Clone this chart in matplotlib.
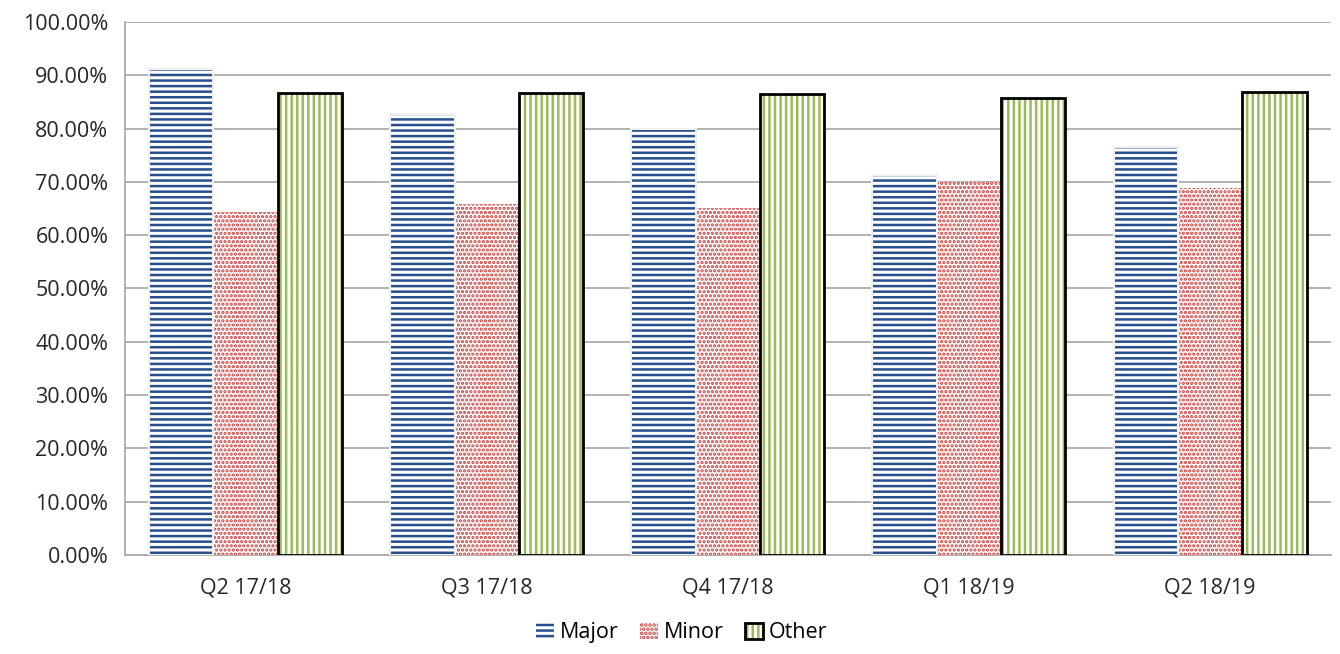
import numpy as np
import matplotlib
matplotlib.use("Agg")
import matplotlib.pyplot as plt
from matplotlib.patches import Patch
from matplotlib.legend_handler import HandlerTuple
from matplotlib.ticker import FuncFormatter

# data
categories = ['Q2 17/18', 'Q3 17/18', 'Q4 17/18', 'Q1 18/19', 'Q2 18/19']
major = [91.2, 82.8, 79.9, 71.2, 76.6]
minor = [64.4, 65.9, 65.1, 69.9, 68.8]
other = [86.7, 86.6, 86.4, 85.8, 86.8]
yticks = np.arange(0, 101, 10)

navy = '#264D8C'
red = '#C8403D'
green = '#9BBB59'
grid_col = '#A6A6A6'

plt.rcParams['font.family'] = ['Open Sans', 'DejaVu Sans']
plt.rcParams['hatch.linewidth'] = 1.8

fig = plt.figure(figsize=(13.4, 6.54), dpi=100)
ax = fig.add_axes([0.0933, 0.1514, 0.8997, 0.815])

x = np.arange(len(categories))
w = 0.8 / 3

# Major: horizontal navy stripes, white glow border
ax.bar(x - w, major, w, color='white', edgecolor=navy, hatch='---', linewidth=0, zorder=3)
ax.bar(x - w, major, w, fill=False, edgecolor='#F0F0F0', linewidth=1.5, zorder=4)
# Minor: red dots
with plt.rc_context({'hatch.linewidth': 1.6}):
    ax.bar(x, minor, w, color='white', edgecolor=red, hatch='....', linewidth=0, zorder=3)
    h_minor = Patch(facecolor='white', edgecolor=red, hatch='....', linewidth=0)
# Other: green vertical stripes, black outline
ax.bar(x + w, other, w, color='white', edgecolor=green, hatch='|||', linewidth=0, zorder=3)
ax.bar(x + w, other, w, fill=False, edgecolor='black', linewidth=2, zorder=4)

ax.set_xlim(-0.5, len(categories) - 0.5)
ax.set_ylim(0, 100)
ax.set_yticks(yticks)
ax.yaxis.set_major_formatter(FuncFormatter(lambda v, p: f'{v:.2f}%'))
ax.set_xticks(x)
ax.set_xticklabels(categories)
ax.tick_params(axis='both', length=0, labelsize=15.5, colors='#262626')
ax.tick_params(axis='x', pad=16)
ax.tick_params(axis='y', pad=12)

ax.grid(axis='y', color=grid_col, linewidth=1.2, zorder=0)
ax.set_axisbelow(True)
for s in ['top', 'right']:
    ax.spines[s].set_visible(False)
for s in ['left', 'bottom']:
    ax.spines[s].set_color(grid_col)
    ax.spines[s].set_linewidth(1.2)

h_major = Patch(facecolor='white', edgecolor=navy, hatch='---', linewidth=0)
h_other = (Patch(facecolor='white', edgecolor=green, hatch='|||', linewidth=0),
           Patch(fill=False, edgecolor='black', linewidth=2))
ax.legend([h_major, h_minor, h_other], ['Major', 'Minor', 'Other'],
          handler_map={tuple: HandlerTuple(ndivide=1)},
          loc='upper center', bbox_to_anchor=(0.462, -0.09), ncol=3, frameon=False,
          fontsize=15.5, handlelength=0.8, handleheight=0.8, handletextpad=0.3,
          columnspacing=1.0)

fig.savefig('out.png', dpi=100)
